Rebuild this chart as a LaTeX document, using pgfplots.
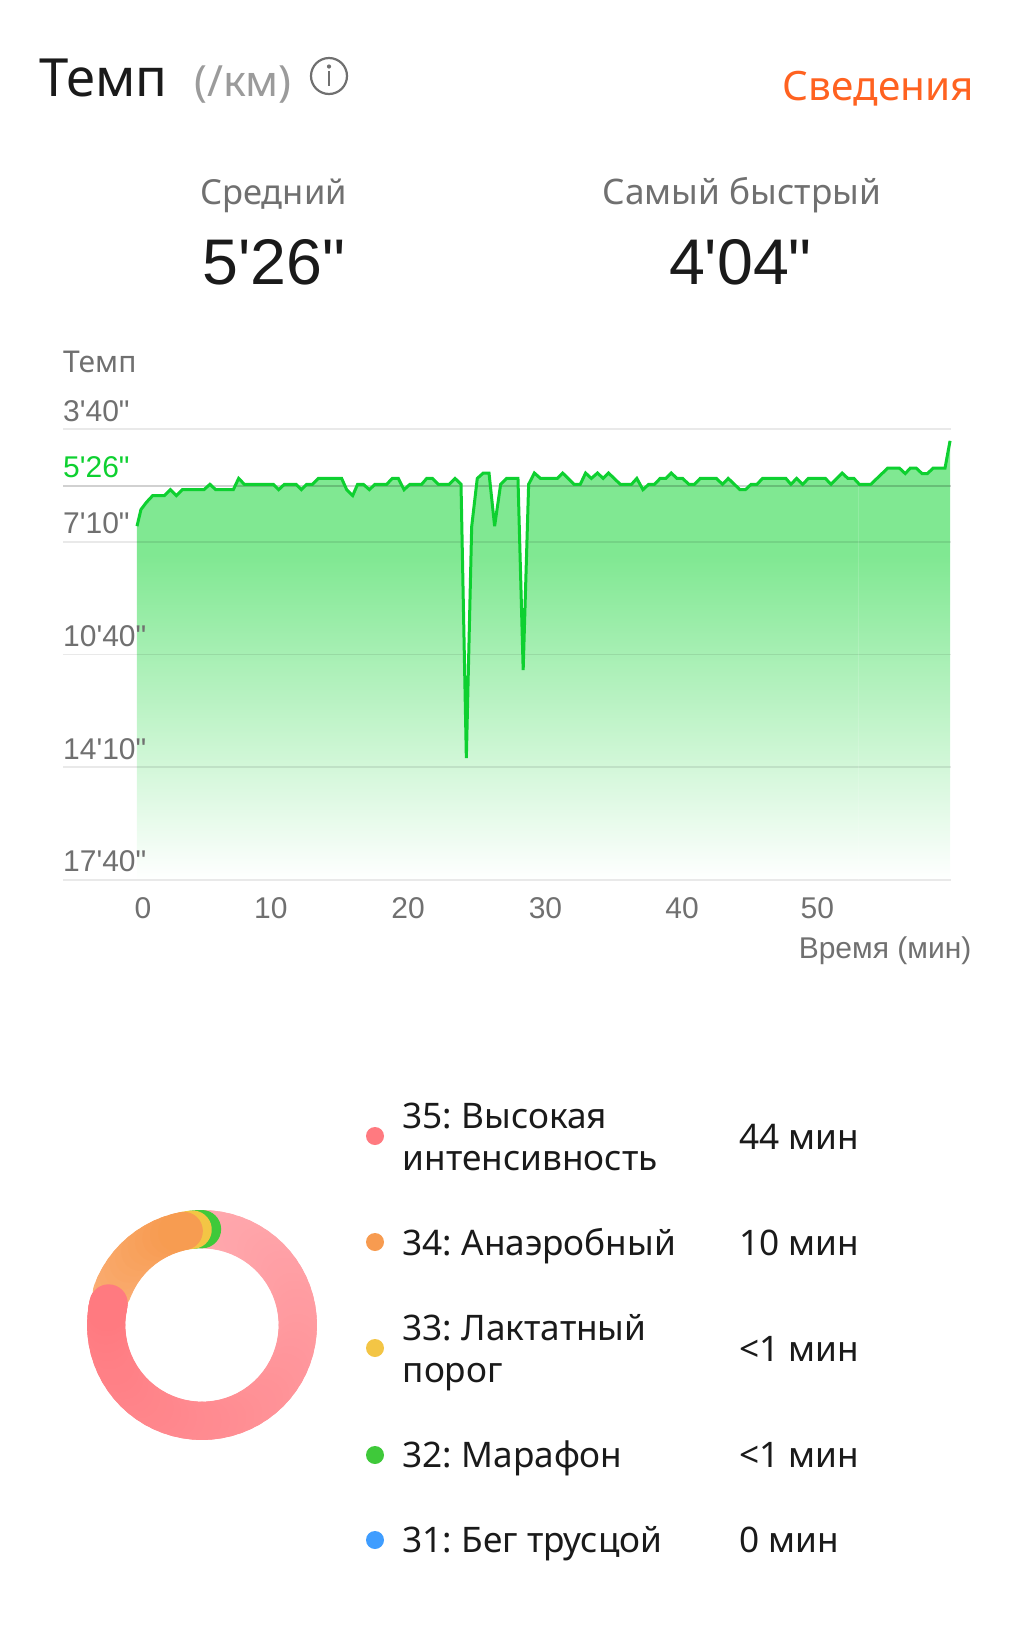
\documentclass[border=0pt]{standalone}
\usepackage{pgfplots}
\usepackage{pgfplotstable}
\usepackage{fontspec}
\pgfplotsset{compat=1.18}
\usepgfplotslibrary{polar}
\newfontfamily\nf{Noto Sans}
\newfontfamily\lf{Liberation Sans}
\newcommand\fs[1]{\nf\fontsize{#1}{#1}\selectfont}
\newcommand\ls[1]{\lf\fontsize{#1}{#1}\selectfont}
\frenchspacing
\definecolor{linegreen}{RGB}{14,208,48}
\definecolor{fillgreen}{RGB}{128,232,146}
\definecolor{labelgray}{RGB}{112,112,112}
\definecolor{lightgray2}{RGB}{155,155,155}
\definecolor{darktext}{RGB}{26,26,26}
\definecolor{detailorange}{RGB}{255,98,32}
\pgfdeclareverticalshading{areafill}{100bp}{color(0bp)=(white);color(25bp)=(white);color(62bp)=(fillgreen);color(75bp)=(fillgreen);color(100bp)=(fillgreen)}
\pgfplotstableread{
t v
0 401
0.29 370
0.71 356
1.15 344
2.00 344
2.44 333
2.88 344
3.32 333
4.90 333
5.34 323
5.76 333
7.05 333
7.44 312
7.86 323
9.98 323
10.37 333
10.79 323
11.64 323
12.03 333
12.42 323
12.84 323
13.27 312
14.98 312
15.35 333
15.79 344
16.15 323
16.57 323
17.01 333
17.42 323
18.28 323
18.69 312
19.13 312
19.55 333
19.98 323
20.84 323
21.21 312
21.62 312
22.06 323
22.86 323
23.28 312
23.72 323
24.11 833
24.50 402
24.91 312
25.35 302
25.77 302
26.18 401
26.62 323
27.06 312
27.89 312
28.27 669
28.67 323
29.09 302
29.54 312
30.77 312
31.16 302
32.00 323
32.45 323
32.84 302
33.26 312
33.71 302
34.13 312
34.52 302
35.38 323
36.20 323
36.59 312
37.04 333
37.46 323
37.88 323
38.30 312
38.71 312
39.11 302
39.53 312
39.95 312
40.39 323
40.81 323
41.23 312
42.42 312
42.86 323
43.28 312
44.14 333
44.54 333
44.96 323
45.38 323
45.80 312
47.50 312
47.87 323
48.29 312
48.73 323
49.15 312
50.39 312
50.81 323
51.62 302
52.04 312
52.48 312
52.88 323
53.72 323
54.95 293
55.82 293
56.24 303
56.60 293
57.05 293
57.47 303
57.86 303
58.28 293
59.15 293
59.52 242
}\pacedata
\begin{document}
\begin{tikzpicture}
\begin{scope}[x=1pt,y=-1pt]
\useasboundingbox (0,0) rectangle (1028,1626);
% header
\node[anchor=base west,inner sep=0,text=darktext,font=\fs{52.6}] at (39,96.7) {Темп};
\node[anchor=base west,inner sep=0,text=lightgray2,font=\fs{43}] at (194,96.7) {(/км)};
\draw[labelgray,line width=2.2pt] (329,76) circle (18);
\fill[labelgray] (329,66.5) circle (2.1);
\fill[labelgray] (327.6,71) rectangle (330.4,86);
\node[anchor=base east,inner sep=0,text=detailorange,font=\fs{40.5}] at (974,100) {Сведения};
\node[anchor=base,inner sep=0,text=labelgray,font=\fs{34.5}] at (273.5,204) {Средний};
\node[anchor=base,inner sep=0,text=labelgray,font=\fs{35.2}] at (742,204) {Самый быстрый};
\node[anchor=base,inner sep=0,text=darktext,font=\ls{64.5}] at (274,284) {5'26"};
\node[anchor=base,inner sep=0,text=darktext,font=\ls{64.5}] at (740.5,284) {4'04"};
\node[anchor=base west,inner sep=0,text=labelgray,font=\fs{30}] at (63,372) {Темп};
\node[anchor=base east,inner sep=0,text=labelgray,font=\ls{30}] at (971.5,958) {Время (мин)};
% legend
\foreach \y/\c in {1136/{255,122,128},1242/{247,155,80},1348/{243,197,69},1455/{63,201,58},1540/{63,157,255}}{
  \definecolor{dotc}{RGB}{\c}
  \fill[dotc] (375,\y) circle (9);
}
\tikzset{lg/.style={anchor=base west,inner sep=0,text=darktext,font=\fs{35.2}}}
\node[lg] at (402.5,1128) {35: Высокая};
\node[lg] at (402.5,1170) {интенсивность};
\node[lg] at (402.5,1255) {34: Анаэробный};
\node[lg] at (402.5,1340) {33: Лактатный};
\node[lg] at (402.5,1382) {порог};
\node[lg] at (402.5,1467) {32: Марафон};
\node[lg] at (402.5,1552) {31: Бег трусцой};
\node[lg] at (739,1149) {44 мин};
\node[lg] at (739,1255) {10 мин};
\node[lg] at (739,1361) {<1 мин};
\node[lg] at (739,1467) {<1 мин};
\node[lg] at (739,1552) {0 мин};
\coordinate (A) at (63,879.8);
\coordinate (B) at (202,1325);
\end{scope}
% line chart
\begin{axis}[
  at={(A)},anchor=south west,
  scale only axis,width=888pt,height=450.8pt,
  xmin=-5.417,xmax=59.59,ymin=220,ymax=1060,y dir=reverse,
  clip=false,
  axis on top,
  axis line style={draw=none},
  major tick style={draw=none},
  xtick={0.44,9.8,19.84,29.9,39.9,49.8},
  xticklabels={0,10,20,30,40,50},
  ytick={220,326,430,640,850,1060},
  yticklabels={3'40",{\textcolor{linegreen}{5'26"}},7'10",10'40",14'10",17'40"},
  tick label style={font=\ls{30},text=labelgray},
  xticklabel style={anchor=base,inner sep=0,yshift=-39pt},
  yticklabel style={anchor=base west,inner sep=0,xshift=0pt,yshift=8pt},
]
\addplot[draw=none,shading=areafill] table[x=t,y=v]{\pacedata} -- (axis cs:59.52,1060) -- (axis cs:0,1060) -- cycle;
\addplot[black,opacity=0.085,line width=1.6pt,forget plot] coordinates {(-5.417,220)(59.59,220)};
\addplot[black,opacity=0.085,line width=1.6pt,forget plot] coordinates {(-5.417,430)(59.59,430)};
\addplot[black,opacity=0.085,line width=1.6pt,forget plot] coordinates {(-5.417,640)(59.59,640)};
\addplot[black,opacity=0.085,line width=1.6pt,forget plot] coordinates {(-5.417,850)(59.59,850)};
\addplot[black,opacity=0.085,line width=1.6pt,forget plot] coordinates {(-5.417,1060)(59.59,1060)};
\addplot[black,opacity=0.18,line width=1.2pt,forget plot] coordinates {(-5.417,326)(59.59,326)};
\addplot[white,opacity=0.15,line width=1pt,forget plot] coordinates {(52.85,326)(52.85,1060)};
\addplot[linegreen,line width=3pt,line join=miter,miter limit=3] table[x=t,y=v]{\pacedata};
\end{axis}
% donut
\begin{polaraxis}[
  at={(B)},anchor=center,
  scale only axis,width=230pt,height=230pt,
  hide axis,ymin=0,ymax=1.2,clip=false,
  colormap={zones}{rgb255(0)=(255,170,175) rgb255(100)=(255,122,128) rgb255(101)=(251,178,125) rgb255(200)=(247,155,80)},
  point meta min=0,point meta max=200,
]
\addplot[mesh,point meta=explicit,line width=38.3pt,line cap=round] coordinates {
(90,1)[0] (85,1)[2] (80,1)[3] (75,1)[5] (70,1)[7] (65,1)[9] (60,1)[10] (55,1)[12] (50,1)[14] (45,1)[16] (40,1)[17] (35,1)[19] (30,1)[21] (25,1)[23] (20,1)[24] (15,1)[26] (10,1)[28] (5,1)[30]
(0,1)[31] (-5,1)[33] (-10,1)[35] (-15,1)[37] (-20,1)[38] (-25,1)[40] (-30,1)[42] (-35,1)[44] (-40,1)[45] (-45,1)[47] (-50,1)[49] (-55,1)[51] (-60,1)[52] (-65,1)[54] (-70,1)[56]
(-75,1)[58] (-80,1)[59] (-85,1)[61] (-90,1)[63] (-95,1)[65] (-100,1)[66] (-105,1)[68] (-110,1)[70] (-115,1)[72] (-120,1)[73] (-125,1)[75] (-130,1)[77] (-135,1)[79] (-140,1)[80]
(-145,1)[82] (-150,1)[84] (-155,1)[86] (-160,1)[87] (-165,1)[89] (-170,1)[91] (-175,1)[93] (-180,1)[94] (-185,1)[96] (-190,1)[98] (-193,1)[100]};
\addplot[color={rgb,255:red,63;green,201;blue,58},line width=38.3pt,line cap=round] coordinates {(96,1)(93,1)(90,1)};
\addplot[color={rgb,255:red,243;green,197;blue,69},line width=38.3pt,line cap=round] coordinates {(101,1)(98,1)(95.6,1)};
\addplot[mesh,point meta=explicit,line width=38.3pt,line cap=round] coordinates {
(160,1)[110] (155,1)[128] (150,1)[135] (145,1)[142] (140,1)[148] (135,1)[155] (130,1)[161] (125,1)[168] (120,1)[175] (115,1)[182] (110,1)[188] (105,1)[195] (101,1)[200]};
\addplot[mesh,point meta=explicit,line width=38.3pt,line cap=round] coordinates {(172,1)[100] (170,1)[100] (167,1)[100]};
\end{polaraxis}
\end{tikzpicture}
\end{document}
